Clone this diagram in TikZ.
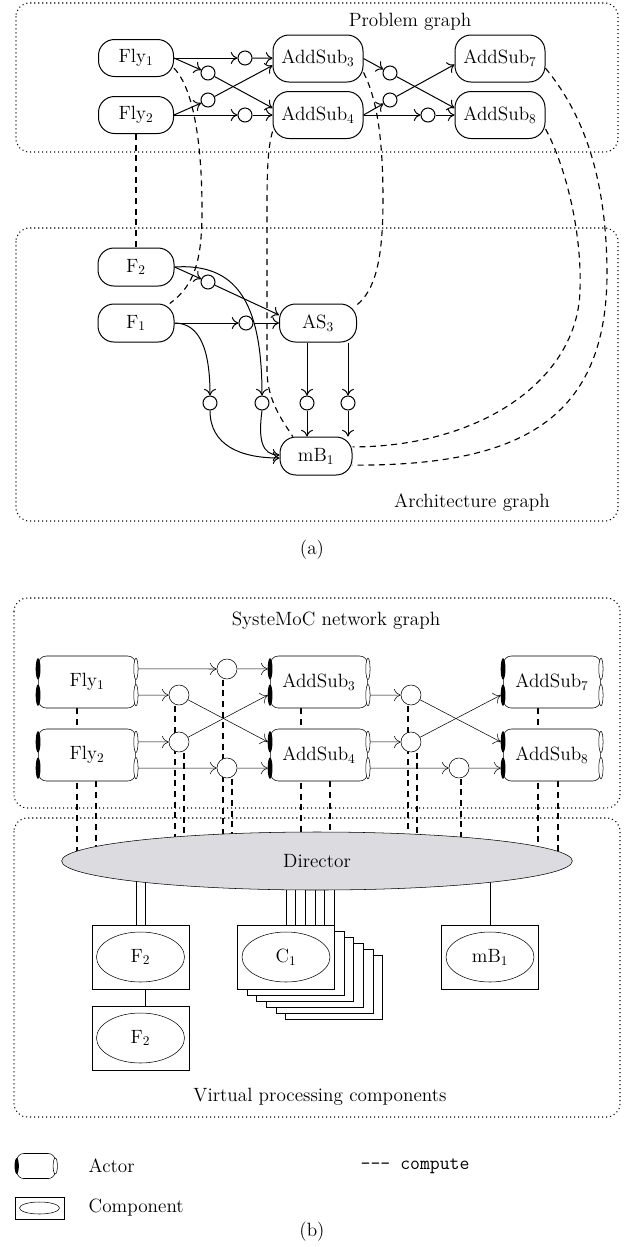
\documentclass[tikz,border=0pt]{standalone}
\usepackage{fontspec}
\usetikzlibrary{arrows.meta,calc,shapes.geometric}
\pgfdeclarelayer{back}
\pgfsetlayers{back,main}
\definecolor{dirgray}{RGB}{220,220,224}
\newcommand\idx[1]{\textsubscript{#1}}
% ports of an actor: filled inputs on the left, open outputs on the right
\newcommand\actorports[1]{%
  \coordinate (#1-i1) at ($(#1.north west)!0.25!(#1.south west)$);
  \coordinate (#1-i2) at ($(#1.north west)!0.75!(#1.south west)$);
  \coordinate (#1-o1) at ($(#1.north east)!0.25!(#1.south east)$);
  \coordinate (#1-o2) at ($(#1.north east)!0.75!(#1.south east)$);
  \fill (#1-i1) ellipse [x radius=1.8pt, y radius=8pt];
  \fill (#1-i2) ellipse [x radius=1.8pt, y radius=8pt];
  \draw[fill=white] (#1-o1) ellipse [x radius=1.6pt, y radius=8pt];
  \draw[fill=white] (#1-o2) ellipse [x radius=1.6pt, y radius=8pt];
}
% dashed compute line from a node down into the director
\newcommand\drop[3]{%
  \coordinate (#1) at ($(#2)+(#3,0)$);
  \draw[map] (#1) -- (#1 |- dir.center);
}
\tikzset{
  area/.style={draw, line width=0.8pt, dash pattern=on 0.8pt off 2.2pt, rounded corners=10pt},
  pn/.style={draw, fill=white, rounded corners=12pt, inner sep=0pt, minimum height=27.75pt, minimum width=56.25pt},
  pnw/.style={pn, minimum width=67.5pt, minimum height=35.25pt},
  ch/.style={circle, draw, fill=white, inner sep=0pt, minimum size=10.5pt},
  chb/.style={circle, draw, fill=white, inner sep=0pt, minimum size=15pt},
  flow/.style={-{To[length=5pt,width=9pt]}},
  map/.style={line width=0.85pt, dash pattern=on 4.5pt off 3.5pt},
  actor/.style={draw, fill=white, rounded corners=6pt, inner sep=0pt, minimum width=73pt, minimum height=39pt},
  comp/.style={draw, fill=white, inner sep=0pt, minimum width=72.75pt, minimum height=48pt},
  compin/.style={draw, ellipse, inner sep=0pt, minimum width=66pt, minimum height=37.5pt},
}
\begin{document}
\begin{tikzpicture}[x=0.75pt,y=-0.75pt,font=\fontsize{14.4}{17}\selectfont,line width=0.75pt]
\useasboundingbox (0,0) rectangle (625,1247);

% ---------------- (a) problem graph ----------------
\draw[area] (16,3) rectangle (618,152);
\node (ptitle) at (410,22) {Problem graph};
\node[pn] (fly1) at (136,58) {Fly\idx1};
\node[pn] (fly2) at (136,115) {Fly\idx2};
\node[pnw] (a3) at (318,58.5) {AddSub\idx3};
\node[pnw] (a4) at (318,115) {AddSub\idx4};
\node[pnw] (a7) at (500,58.5) {AddSub\idx7};
\node[pnw] (a8) at (500,115) {AddSub\idx8};
\node[ch] (c1) at (245,58) {};
\node[ch] (c2) at (208,73) {};
\node[ch] (c3) at (208,100) {};
\node[ch] (c4) at (245,115) {};
\node[ch] (c5) at (390,73) {};
\node[ch] (c6) at (390,100) {};
\node[ch] (c7) at (428,115) {};

\draw[flow] (fly1) -- (c1);
\draw[flow] (c1) -- (a3);
\draw[flow] (fly1.east) -- (c2);
\draw[flow] (c2) -- ($(a4.west)+(0,-7)$);
\draw[flow] (fly2.east) -- (c3);
\draw[flow] (c3) -- ($(a3.west)+(0,7)$);
\draw[flow] (fly2) -- (c4);
\draw[flow] (c4) -- (a4);
\draw[flow] (a3.east) -- (c5);
\draw[flow] (c5) -- ($(a8.west)+(0,-7)$);
\draw[flow] (a4.east) -- (c6);
\draw[flow] (c6) -- ($(a7.west)+(0,6)$);
\draw[flow] (a4) -- (c7);
\draw[flow] (c7) -- (a8);

% ---------------- (a) architecture graph ----------------
\draw[area] (16,228) rectangle (618,521);
\node (atitle) at (472,503) {Architecture graph};
\node[pn, minimum width=57pt, minimum height=28.5pt] (f2) at (136,267) {F\idx2};
\node[pn, minimum width=57pt, minimum height=28.5pt] (f1) at (136,323) {F\idx1};
\node[pn, minimum width=57.75pt, minimum height=28.5pt] (as3) at (318,323) {AS\idx3};
\node[pn, minimum width=54pt, minimum height=28.5pt] (mb1) at (316,456) {mB\idx1};
\node[ch] (d1) at (208,282) {};
\node[ch] (d2) at (246,323) {};
\node[ch] (d3) at (210,403) {};
\node[ch] (d4) at (262,403) {};
\node[ch] (d5) at (307,403) {};
\node[ch] (d6) at (348,403) {};

\draw[flow] (f2.east) -- (d1);
\draw[flow] (d1) -- ($(as3.west)+(0,-8)$);
\draw[flow] (f1) -- (d2);
\draw[flow] (d2) -- (as3);
\draw[flow] (f2.east) .. controls (235,263) and (262,300) .. (d4.north);
\draw[flow] (f1.east) .. controls (200,323) and (210,350) .. (d3.north);
\draw[flow] (d5 |- as3.south) -- (d5);
\draw[flow] (d6 |- as3.south) -- (d6);
\draw[flow] (d5) -- (d5 |- mb1.north);
\draw[flow] (d6) -- (d6 |- mb1.north);
\draw[flow] (d3.south) .. controls (210,445) and (240,458) .. ($(mb1.west)+(0,2)$);
\draw[flow] (d4.south) .. controls (258,440) and (262,455) .. ($(mb1.west)+(0,-1)$);

% mapping edges between the two graphs
\begin{pgfonlayer}{back}
\draw[map] (fly2) -- (f2);
\draw[map] (fly1.-15) .. controls (195,90) and (202,150) .. (202,210)
  .. controls (202,260) and (195,285) .. (f1.30);
\draw[map] (a4.200) .. controls (267,150) and (267,180) .. (267,220)
  -- (267,370) .. controls (267,400) and (282,420) .. (mb1.140);
\draw[map] (a3.-17) .. controls (375,95) and (383,130) .. (383,200)
  .. controls (383,260) and (375,290) .. (as3.25);
\draw[map] (a8.-17) .. controls (565,165) and (582,230) .. (580,290)
  .. controls (578,380) and (480,447) .. (mb1.14);
\draw[map] (a7.-12) .. controls (580,110) and (606,170) .. (607,270)
  .. controls (608,420) and (520,466) .. (mb1.-14);
\end{pgfonlayer}

\node (capa) at (312,550) {(a)};

% ---------------- (b) SysteMoC network graph ----------------
\draw[area] (14,598) rectangle (620,808);
\node (btitle) at (336,621) {SysteMoC network graph};
\node[actor] (fly1b) at (87,682) {Fly\idx1};
\node[actor] (fly2b) at (87,755) {Fly\idx2};
\node[actor] (a3b) at (319,682) {AddSub\idx3};
\node[actor] (a4b) at (319,755) {AddSub\idx4};
\node[actor] (a7b) at (552,682) {AddSub\idx7};
\node[actor] (a8b) at (552,755) {AddSub\idx8};
\actorports{fly1b}
\actorports{fly2b}
\actorports{a3b}
\actorports{a4b}
\actorports{a7b}
\actorports{a8b}
\node[chb] (cb1) at (227,669) {};
\node[chb] (cb2) at (179,695) {};
\node[chb] (cb3) at (179,742) {};
\node[chb] (cb4) at (227,768) {};
\node[chb] (cb5) at (411,695) {};
\node[chb] (cb6) at (411,742) {};
\node[chb] (cb7) at (459,768) {};

\draw[flow] ([xshift=1.6pt]fly1b-o1) -- (cb1);
\draw[flow] (cb1) -- ([xshift=-1.8pt]a3b-i1);
\draw[flow] ([xshift=1.6pt]fly1b-o2) -- (cb2);
\draw[flow] (cb2) -- ([xshift=-1.8pt]a4b-i1);
\draw[flow] ([xshift=1.6pt]fly2b-o1) -- (cb3);
\draw[flow] (cb3) -- ([xshift=-1.8pt]a3b-i2);
\draw[flow] ([xshift=1.6pt]fly2b-o2) -- (cb4);
\draw[flow] (cb4) -- ([xshift=-1.8pt]a4b-i2);
\draw[flow] ([xshift=1.6pt]a3b-o2) -- (cb5);
\draw[flow] (cb5) -- ([xshift=-1.8pt]a8b-i1);
\draw[flow] ([xshift=1.6pt]a4b-o1) -- (cb6);
\draw[flow] (cb6) -- ([xshift=-1.8pt]a7b-i2);
\draw[flow] ([xshift=1.6pt]a4b-o2) -- (cb7);
\draw[flow] (cb7) -- ([xshift=-1.8pt]a8b-i2);

% ---------------- (b) virtual processing components ----------------
\draw[area] (14,818) rectangle (620,1117);
\node (vtitle) at (320,1097) {Virtual processing components};
\node[ellipse, draw, fill=dirgray, minimum width=383pt, minimum height=43.5pt, inner sep=0pt] (dir) at (317,861) {Director};

\node[comp] (f2c) at (140.5,957) {};
\node[compin] (f2ce) at (f2c) {F\idx2};
\node[comp] (f2d) at (140.5,1038) {};
\node[compin] (f2de) at (f2d) {F\idx2};
\foreach \k in {5,4,3,2,1}{
  \node[comp] (c1s\k) at (286+9.6*\k,957+6*\k) {};
}
\node[comp] (c1c) at (286,957) {};
\node[compin] (c1ce) at (c1c) {C\idx1};
\node[comp] (mbc) at (490,957) {};
\node[compin] (mbce) at (mbc) {mB\idx1};

\begin{pgfonlayer}{back}
% compute edges of actors and channels
\drop{q1}{fly1b.south}{-10}
\drop{q2}{fly2b.south}{9}
\drop{q3}{cb2}{-4}
\drop{q4}{cb3}{5}
\drop{q5}{cb1}{-4}
\drop{q6}{cb4}{5}
\drop{q7}{a3b.south}{-18}
\drop{q8}{a4b.south}{11}
\drop{q9}{cb5}{-3}
\drop{q10}{cb6}{6}
\drop{q11}{cb7}{2}
\drop{q12}{a7b.south}{-14}
\drop{q13}{a8b.south}{6}
% links from the director to the components
\coordinate (l1) at ($(f2c.north)+(-4.5,0)$);
\coordinate (l2) at ($(f2c.north)+(4.5,0)$);
\draw (l1 |- dir.center) -- (l1);
\draw (l2 |- dir.center) -- (l2);
\foreach \j in {0,...,5}{
  \coordinate (m\j) at ($(c1c.north)+(9.6*\j,0)$);
  \draw (m\j |- dir.center) -- (m\j);
}
\draw (mbc.north |- dir.center) -- (mbc.north);
\end{pgfonlayer}
\coordinate (l3) at ($(f2c.south)+(4.5,0)$);
\draw (l3) -- (l3 |- f2d.north);

% ---------------- legend ----------------
\node[draw, fill=white, rounded corners=5pt, minimum width=28.5pt, minimum height=18.75pt, inner sep=0pt] (lact) at (36,1166) {};
\fill (lact.west) ellipse [x radius=1.6pt, y radius=6pt];
\draw[fill=white] (lact.east) ellipse [x radius=1.6pt, y radius=6pt];
\node[anchor=west] (lacttxt) at (84,1166) {Actor};
\node[anchor=west, font=\fontsize{14.4}{17}\ttfamily] (lmap) at (356,1166) {-{}-{}- compute};
\node[draw, minimum width=36.75pt, minimum height=16.5pt, inner sep=0pt] (lcomp) at (39.5,1208) {};
\node[draw, ellipse, minimum width=30pt, minimum height=9pt, inner sep=0pt] (lcompe) at (lcomp) {};
\node[anchor=west] (lcomptxt) at (84,1208) {Component};
\node (capb) at (312,1232) {(b)};
\end{tikzpicture}
\end{document}
